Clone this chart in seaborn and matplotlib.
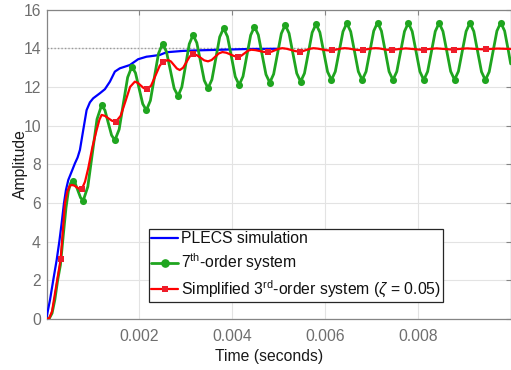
import numpy as np
import pandas as pd
import matplotlib
matplotlib.use("Agg")
import matplotlib.pyplot as plt
from matplotlib.lines import Line2D
import seaborn as sns

# ---------------- data (time in milliseconds, amplitude) ----------------
plecs_t_ms = [0, 0.018, 0.075, 0.146, 0.219, 0.276, 0.326, 0.376, 0.419, 0.47,
              0.542, 0.613, 0.67, 0.72, 0.79, 0.864, 0.935, 1.006, 1.15, 1.258,
              1.366, 1.473, 1.58, 1.796, 1.974, 2.155, 2.226, 2.44, 2.585, 2.942,
              3.301, 4.376, 4.96]
plecs_v = [0, 0.29, 0.98, 2.02, 3.05, 4.0, 4.95, 5.98, 6.67, 7.19,
           7.62, 8.05, 8.35, 8.74, 9.75, 10.8, 11.2, 11.41, 11.67, 11.88,
           12.27, 12.79, 12.96, 13.13, 13.43, 13.56, 13.58, 13.65, 13.79, 13.86,
           13.89, 13.96, 13.97]

order7_t_ms = [0, 0.06, 0.12, 0.18, 0.24, 0.30, 0.36, 0.42, 0.47, 0.52, 0.563,
               0.620, 0.677, 0.734, 0.791,
               0.890, 0.989, 1.088, 1.187,
               1.259, 1.330, 1.402, 1.473,
               1.565, 1.656, 1.748, 1.839,
               1.917, 1.995, 2.073, 2.151,
               2.238, 2.325, 2.412, 2.499,
               2.583, 2.667, 2.750, 2.834,
               2.915, 2.996, 3.076, 3.157,
               3.238, 3.319, 3.399, 3.480,
               3.564, 3.648, 3.731, 3.815,
               3.899, 3.983, 4.066, 4.150,
               4.233, 4.315, 4.398, 4.480,
               4.563, 4.645, 4.728, 4.810,
               4.893, 4.976, 5.059, 5.142,
               5.225, 5.308, 5.391, 5.474,
               5.557, 5.640, 5.723, 5.806,
               5.889, 5.972, 6.055, 6.138,
               6.221, 6.304, 6.387, 6.470,
               6.553, 6.636, 6.718, 6.801,
               6.884, 6.967, 7.049, 7.132,
               7.215, 7.298, 7.380, 7.463,
               7.546, 7.629, 7.712, 7.795,
               7.878, 7.961, 8.044, 8.127,
               8.210, 8.293, 8.375, 8.458,
               8.541, 8.624, 8.707, 8.790,
               8.873, 8.956, 9.039, 9.122,
               9.205, 9.288, 9.371, 9.454,
               9.537, 9.620, 9.703, 9.786,
               9.869, 9.952, 10.0]
order7_v = [0, 0.03, 0.3, 1.0, 2.0, 2.8, 4.3, 5.75, 6.6, 7.02, 7.15,
            7.00, 6.635, 6.27, 6.12,
            6.84, 8.585, 10.33, 11.05,
            10.79, 10.145, 9.50, 9.24,
            9.80, 11.145, 12.49, 13.05,
            12.72, 11.92, 11.12, 10.79,
            11.29, 12.505, 13.72, 14.22,
            13.83, 12.875, 11.92, 11.53,
            11.99, 13.105, 14.22, 14.68,
            14.28, 13.305, 12.33, 11.93,
            12.38, 13.48, 14.58, 15.03,
            14.60, 13.565, 12.53, 12.10,
            12.54, 13.605, 14.67, 15.11,
            14.69, 13.665, 12.64, 12.22,
            12.66, 13.71, 14.76, 15.20,
            14.77, 13.735, 12.70, 12.27,
            12.70, 13.755, 14.81, 15.24,
            14.82, 13.80, 12.78, 12.36,
            12.79, 13.825, 14.86, 15.29,
            14.86, 13.825, 12.79, 12.36,
            12.79, 13.84, 14.89, 15.32,
            14.89, 13.84, 12.79, 12.36,
            12.79, 13.83, 14.87, 15.30,
            14.87, 13.83, 12.79, 12.36,
            12.79, 13.83, 14.87, 15.30,
            14.87, 13.835, 12.80, 12.37,
            12.80, 13.835, 14.87, 15.30,
            14.87, 13.825, 12.78, 12.35,
            12.78, 13.835, 14.89, 15.32,
            14.89, 13.84, 13.19]

# extrema of the 7th-order response carry circle markers
order7_mark_t_ms = [0.563, 0.791, 1.187, 1.473, 1.839, 2.151, 2.499, 2.834, 3.157,
                    3.480, 3.815, 4.150, 4.480, 4.810, 5.142, 5.474, 5.806, 6.138,
                    6.470, 6.801, 7.132, 7.463, 7.795, 8.127, 8.458, 8.790, 9.122,
                    9.454, 9.786]
order7_mark_v = [7.15, 6.12, 11.05, 9.24, 13.05, 10.79, 14.22, 11.53, 14.68,
                 11.93, 15.03, 12.10, 15.11, 12.22, 15.20, 12.27, 15.24, 12.36,
                 15.29, 12.36, 15.32, 12.36, 15.30, 12.36, 15.30, 12.37, 15.30,
                 12.35, 15.32]

order3_t_ms = [0, 0.06, 0.12, 0.183, 0.24, 0.305, 0.35, 0.398, 0.45, 0.50, 0.542,
               0.596, 0.650, 0.703, 0.757,
               0.83, 0.899, 0.99, 1.08, 1.14, 1.187,
               1.26, 1.329, 1.41, 1.495,
               1.597, 1.699, 1.801, 1.903,
               1.966, 2.029, 2.092, 2.155,
               2.25, 2.333, 2.44, 2.512, 2.619,
               2.682, 2.745, 2.808, 2.871,
               2.943, 3.014, 3.086, 3.157,
               3.238, 3.319, 3.399, 3.48,
               3.558, 3.635, 3.713, 3.79,
               3.874, 3.958, 4.041, 4.125,
               4.196, 4.268, 4.339, 4.41,
               4.50, 4.59, 4.68, 4.77,
               4.848, 4.925, 5.003, 5.08,
               5.173, 5.265, 5.358, 5.45,
               5.525, 5.60, 5.675, 5.75,
               5.838, 5.925, 6.013, 6.10,
               6.18, 6.26, 6.34, 6.42,
               6.503, 6.585, 6.668, 6.75,
               6.833, 6.915, 6.998, 7.08,
               7.163, 7.245, 7.328, 7.41,
               7.575, 7.74, 7.905, 8.07, 8.235, 8.40, 8.565, 8.73,
               8.895, 9.06, 9.225, 9.39, 9.555, 9.72, 10.0]
order3_v = [0, 0.04, 0.4, 1.33, 2.15, 3.09, 4.5, 6.0, 6.6, 6.88, 6.93,
            6.90, 6.815, 6.73, 6.70,
            7.1, 7.79, 8.9, 9.77, 10.3, 10.55,
            10.5, 10.38, 10.25, 10.2,
            10.50, 11.24, 12.0, 12.27,
            12.21, 12.075, 11.94, 11.88,
            12.05, 12.5, 13.1, 13.3, 13.39,
            13.31, 13.13, 12.95, 12.87,
            12.99, 13.28, 13.57, 13.69,
            13.64, 13.505, 13.37, 13.32,
            13.39, 13.56, 13.73, 13.80,
            13.765, 13.68, 13.595, 13.56,
            13.61, 13.74, 13.87, 13.92,
            13.90, 13.855, 13.81, 13.79,
            13.82, 13.895, 13.97, 14.0,
            13.97, 13.91, 13.85, 13.82,
            13.85, 13.91, 13.97, 14.0,
            13.98, 13.94, 13.90, 13.88,
            13.90, 13.94, 13.98, 14.0,
            13.985, 13.95, 13.915, 13.90,
            13.915, 13.95, 13.985, 14.0,
            13.99, 13.955, 13.92, 13.91,
            13.95, 13.99, 13.955, 13.92, 13.955, 13.99, 13.96, 13.93,
            13.96, 13.99, 13.965, 13.94, 13.96, 13.98, 13.96]

# sample points of the 3rd-order response that carry square markers
order3_mark_t_ms = [0.305, 0.757, 1.495, 2.155, 2.512, 3.157, 4.125, 4.770,
                    5.467, 6.146, 6.813, 7.445, 8.140, 8.785, 9.467]
order3_mark_v = [3.09, 6.70, 10.2, 11.88, 13.3, 13.69, 13.56, 13.79,
                 13.82, 13.90, 13.91, 13.91, 13.92, 13.93, 13.94]

steady_state = 14.0
x_ticks = [0.002, 0.004, 0.006, 0.008]
x_tick_labels = ["0.002", "0.004", "0.006", "0.008"]
y_ticks = [0, 2, 4, 6, 8, 10, 12, 14, 16]
legend_labels = ["PLECS simulation",
                 r"7$^{\mathrm{th}}$-order system",
                 r"Simplified 3$^{\mathrm{rd}}$-order system ($\zeta$ = 0.05)"]

# ---------------- styling ----------------
sns.set_theme(style="white")
plt.rcParams["font.family"] = ["Liberation Sans", "DejaVu Sans"]
plt.rcParams["mathtext.fontset"] = "custom"
plt.rcParams["mathtext.rm"] = "Liberation Sans"
plt.rcParams["mathtext.it"] = "Liberation Sans:italic"
plt.rcParams["mathtext.bf"] = "Liberation Sans:bold"

BLUE = "#0000ff"
GREEN = "#1fa51f"
RED = "#ff0000"
RED_MARK = "#ee1c2a"
AXIS_GRAY = "#858585"
TICK_GRAY = "#6e6e6e"
FS = 11.3

ms = 1e-3
plecs = pd.DataFrame({"t": np.array(plecs_t_ms) * ms, "v": plecs_v})
order7 = pd.DataFrame({"t": np.array(order7_t_ms) * ms, "v": order7_v})
order3 = pd.DataFrame({"t": np.array(order3_t_ms) * ms, "v": order3_v})
order7_marks = pd.DataFrame({"t": np.array(order7_mark_t_ms) * ms, "v": order7_mark_v})
order3_marks = pd.DataFrame({"t": np.array(order3_mark_t_ms) * ms, "v": order3_mark_v})

fig = plt.figure(figsize=(5.11, 3.70), dpi=100)
ax = fig.add_axes([46.5 / 511, 1 - 319 / 370, 464.2 / 511, 309.5 / 370])

ax.axhline(steady_state, color="#9a9a9a", lw=1.0, ls=(0, (1, 1.5)), zorder=1)

sns.lineplot(data=plecs, x="t", y="v", ax=ax, color=BLUE, lw=1.6,
             estimator=None, sort=False, zorder=3)
sns.lineplot(data=order7, x="t", y="v", ax=ax, color=GREEN, lw=2.0,
             estimator=None, sort=False, zorder=4)
sns.scatterplot(data=order7_marks, x="t", y="v", ax=ax, color=GREEN, marker="o",
                s=26, linewidth=0, zorder=5)
sns.lineplot(data=order3, x="t", y="v", ax=ax, color=RED, lw=1.6,
             estimator=None, sort=False, zorder=6)
sns.scatterplot(data=order3_marks, x="t", y="v", ax=ax, color=RED_MARK, marker="s",
                s=24, linewidth=0, zorder=7)

ax.set_xlim(0, 0.01)
ax.set_ylim(0, 16)
ax.set_xticks(x_ticks)
ax.set_xticklabels(x_tick_labels)
ax.set_yticks(y_ticks)
ax.grid(True, color="#e3e3e3", lw=0.8, zorder=0)
ax.set_axisbelow(True)

for side in ["left", "right", "top", "bottom"]:
    ax.spines[side].set_visible(True)
    ax.spines[side].set_color(AXIS_GRAY)
    ax.spines[side].set_linewidth(0.9)

ax.tick_params(axis="both", which="major", direction="in", length=3.5, width=0.8,
               color=AXIS_GRAY, labelcolor=TICK_GRAY, labelsize=FS,
               top=True, right=True)
ax.tick_params(axis="x", pad=7)
ax.tick_params(axis="y", pad=4)

ax.set_xlabel("Time (seconds)", fontsize=FS, color="#1a1a1a", va="center")
ax.xaxis.set_label_coords((269 - 46.5) / 464.2, (319 - 356.7) / 309.5)
ax.set_ylabel("Amplitude", fontsize=FS, color="#1a1a1a", va="center")
ax.yaxis.set_label_coords((20 - 46.5) / 464.2, 0.5)

handles = [
    Line2D([], [], color=BLUE, lw=1.6),
    Line2D([], [], color=GREEN, lw=2.0, marker="o", markersize=5.2),
    Line2D([], [], color=RED, lw=1.6, marker="s", markersize=4.8,
           markerfacecolor=RED_MARK, markeredgewidth=0),
]
leg = ax.legend(handles, legend_labels, loc="lower left",
                bbox_to_anchor=((149 - 46.5) / 464.2, (319 - 301.7) / 309.5),
                borderaxespad=0, fontsize=FS, frameon=True, fancybox=False,
                framealpha=1, edgecolor="#262626", handlelength=1.7,
                handletextpad=0.2, borderpad=0.15, labelspacing=0.33)
leg.get_frame().set_linewidth(0.9)
for txt in leg.get_texts():
    txt.set_color("#111111")

fig.savefig("out.png", dpi=100)
